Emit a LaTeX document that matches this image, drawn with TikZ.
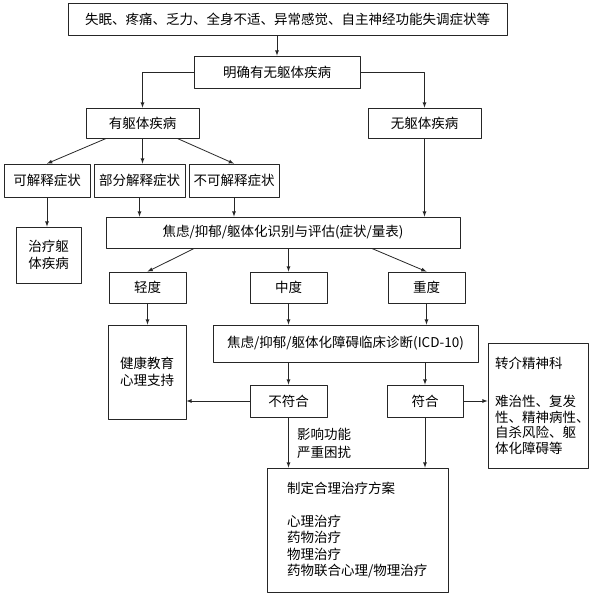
\documentclass[tikz,border=0pt]{standalone}
\usepackage{fontspec}
\setmainfont{Noto Sans CJK SC}
\usetikzlibrary{calc}

\begin{document}
\begin{tikzpicture}[>=latex,line join=bevel,
  box/.style={draw=black!85,line width=0.8bp,inner sep=0pt,align=center,font=\fontsize{13.5bp}{16.5bp}\selectfont},
  note/.style={inner sep=0pt,align=left,font=\fontsize{13.5bp}{18bp}\selectfont},
  link/.style={black!85,line width=0.8bp,->}]
%%
\useasboundingbox (0bp,0bp) rectangle (591bp,596bp);
\node (node_symptoms) at (287.5bp,577bp) [box,minimum width=439bp,minimum height=32bp] {失眠、疼痛、乏力、全身不适、异常感觉、自主神经功能失调症状等};
  \node (node_check) at (277bp,524bp) [box,minimum width=166bp,minimum height=32bp] {明确有无躯体疾病};
  \node (node_organic) at (142.5bp,473bp) [box,minimum width=113bp,minimum height=30bp] {有躯体疾病};
  \node (node_nonorganic) at (424.5bp,473bp) [box,minimum width=113bp,minimum height=30bp] {无躯体疾病};
  \node (node_explained) at (47bp,415.5bp) [box,minimum width=86bp,minimum height=33bp] {可解释症状};
  \node (node_partial) at (139.5bp,415.5bp) [box,minimum width=91bp,minimum height=33bp] {部分解释症状};
  \node (node_unexplained) at (234bp,415.5bp) [box,minimum width=90bp,minimum height=33bp] {不可解释症状};
  \node (node_treatorg) at (48.5bp,341bp) [box,minimum width=65bp,minimum height=56bp] {治疗躯\\体疾病};
  \node (node_assess) at (283bp,363.5bp) [box,minimum width=354bp,minimum height=31bp] {焦虑/抑郁/躯体化识别与评估(症状/量表)};
  \node (node_mild) at (147.5bp,308.5bp) [box,minimum width=77bp,minimum height=31bp] {轻度};
  \node (node_moderate) at (288.5bp,308.5bp) [box,minimum width=77bp,minimum height=31bp] {中度};
  \node (node_severe) at (426.5bp,308.5bp) [box,minimum width=77bp,minimum height=31bp] {重度};
  \node (node_support) at (147bp,224bp) [box,minimum width=78bp,minimum height=94bp] {健康教育\\心理支持};
  \node (node_icd) at (345.5bp,252.5bp) [box,minimum width=265bp,minimum height=37bp] {焦虑/抑郁/躯体化障碍临床诊断(ICD-10)};
  \node (node_nomatch) at (288.5bp,195bp) [box,minimum width=77bp,minimum height=32bp] {不符合};
  \node (node_match) at (425bp,195bp) [box,minimum width=76bp,minimum height=32bp] {符合};
  \node (node_referral) at (538bp,190.5bp) [box,align=left,text width=86bp,inner xsep=7bp,minimum height=125bp,font=\fontsize{13.5bp}{15.5bp}\selectfont] {转介精神科\\[23bp]难治性、复发\\性、精神病性、\\自杀风险、躯\\体化障碍等};
  \node (node_treatment) at (357.5bp,66bp) [box,align=left,text width=141bp,inner xsep=20bp,minimum height=124bp] {制定合理治疗方案\\[16.5bp]心理治疗\\药物治疗\\物理治疗\\药物联合心理/物理治疗};
  \node (node_impact) at (297bp,153bp) [note,anchor=west] {影响功能\\严重困扰};
  \draw [link] (node_symptoms.south -| node_check.north) -- (node_check.north);
  \draw [link] (node_check.west) -| (node_organic.north);
  \draw [link] (node_check.east) -| (node_nonorganic.north);
  \draw [link] (node_organic) -- (node_explained.north);
  \draw [link] (node_organic.south) -- (node_organic.south |- node_partial.north);
  \draw [link] (node_organic) -- (node_unexplained.north);
  \draw [link] (node_explained.south) -- (node_explained.south |- node_treatorg.north);
  \draw [link] (node_partial.south) -- (node_partial.south |- node_assess.north);
  \draw [link] (node_unexplained.south) -- (node_unexplained.south |- node_assess.north);
  \draw [link] (node_nonorganic.south) -- (node_nonorganic.south |- node_assess.north);
  \draw [link] ($(node_assess.south)!0.5!(node_assess.south west)$) -- (node_mild.north);
  \draw [link] (node_assess.south -| node_moderate.north) -- (node_moderate.north);
  \draw [link] ($(node_assess.south)!0.5!(node_assess.south east)$) -- (node_severe.north);
  \draw [link] (node_mild.south) -- (node_mild.south |- node_support.north);
  \draw [link] (node_moderate.south) -- (node_moderate.south |- node_icd.north);
  \draw [link] (node_severe.south) -- (node_severe.south |- node_icd.north);
  \draw [link] (node_icd.south -| node_nomatch.north) -- (node_nomatch.north);
  \draw [link] (node_icd.south -| node_match.north) -- (node_match.north);
  \draw [link] (node_nomatch.west) -- (node_nomatch.west -| node_support.east);
  \draw [link] (node_match.east) -- (node_match.east -| node_referral.west);
  \draw [link] (node_nomatch.south) -- (node_nomatch.south |- node_treatment.north);
  \draw [link] (node_match.south) -- (node_match.south |- node_treatment.north);
%
\end{tikzpicture}
\end{document}
